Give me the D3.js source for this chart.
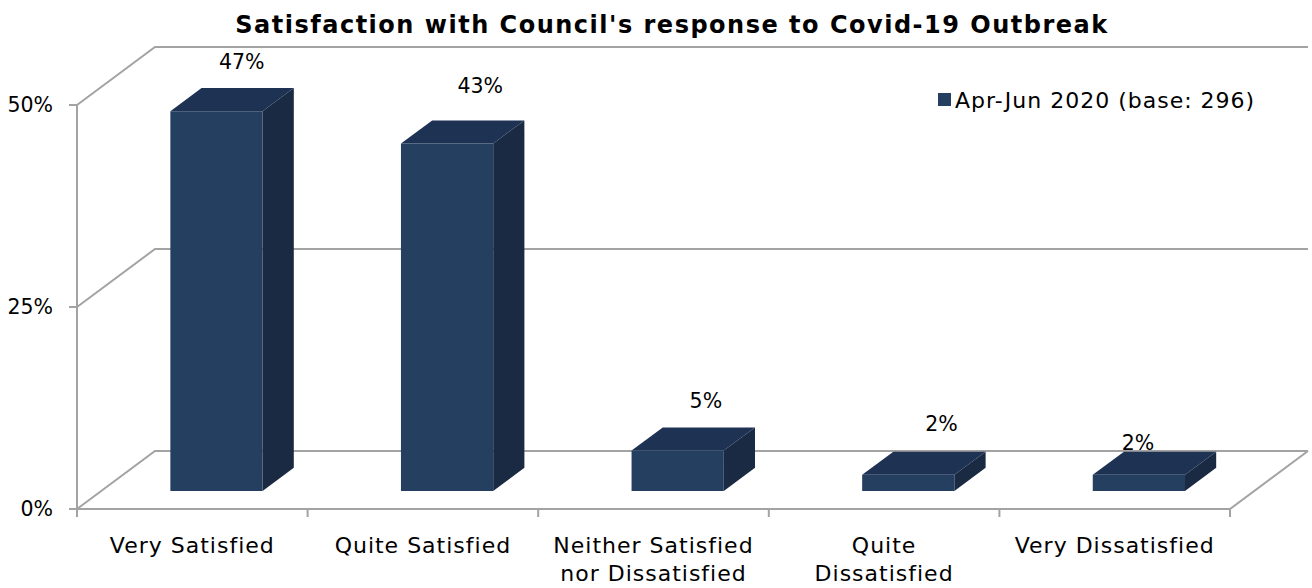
<!DOCTYPE html>
<html>
<head>
<meta charset="utf-8">
<script src="https://cdn.jsdelivr.net/npm/d3@7"></script>
<style>
html,body{margin:0;padding:0;background:#fff;}
svg{display:block;}
text{font-family:"DejaVu Sans",sans-serif;fill:#000;}
</style>
</head>
<body>
<svg id="chart" width="1312" height="588"></svg>
<script>
// ---- data ----
const categories = [["Very Satisfied"], ["Quite Satisfied"], ["Neither Satisfied", "nor Dissatisfied"], ["Quite", "Dissatisfied"], ["Very Dissatisfied"]];
const values = [47, 43, 5, 2, 2];
const valueLabels = ["47%", "43%", "5%", "2%", "2%"];
const yTicks = [0, 25, 50];
const seriesName = "Apr-Jun 2020 (base: 296)";
const title = "Satisfaction with Council's response to Covid-19 Outbreak";

// ---- layout (not data) ----
const labelOffsets = [[-6, -26], [2, -35], [-3, -27], [2, -28], [-32, -9]];
const origin = {x: 77, y: 509};
const depth = {dx: 78, dy: -58};
const barZ = [0.31, 0.71];

const svg = d3.select("#chart");
const x = d3.scaleBand().domain(d3.range(categories.length)).range([origin.x, 1230]).paddingInner(0).paddingOuter(0);
const y = d3.scaleLinear().domain([0, 50]).range([0, 404]);

function P(px, v, z) {
  return [px + depth.dx * z, origin.y - y(v) + depth.dy * z];
}

const gridColor = "#a3a3a3";
const g = svg.append("g");
const fs = "22px", ls = "1px", pfs = "20.5px";

// walls gridlines
yTicks.forEach(t => {
  const a = P(origin.x, t, 0), b = P(origin.x, t, 1), c = P(1230, t, 1);
  g.append("polyline")
    .attr("points", [a, b, c].map(p => p.join(",")).join(" "))
    .attr("fill", "none").attr("stroke", gridColor).attr("stroke-width", 2);
});
// floor front & right edge
{
  const a = P(origin.x, 0, 0), b = P(1230, 0, 0), c = P(1230, 0, 1);
  g.append("polyline").attr("points", [a, b, c].map(p => p.join(",")).join(" "))
    .attr("fill", "none").attr("stroke", gridColor).attr("stroke-width", 2);
}
// vertical axis
g.append("line").attr("x1", origin.x).attr("x2", origin.x)
  .attr("y1", P(0, 0, 0)[1]).attr("y2", P(0, 50, 0)[1])
  .attr("stroke", gridColor).attr("stroke-width", 2);
// y ticks
yTicks.forEach(t => {
  const yy = P(0, t, 0)[1];
  g.append("line").attr("x1", origin.x - 8).attr("x2", origin.x).attr("y1", yy).attr("y2", yy)
    .attr("stroke", gridColor).attr("stroke-width", 2);
  g.append("text").attr("x", 53).attr("y", yy).attr("dy", "0.35em")
    .attr("text-anchor", "end").style("font-size", pfs).text(t + "%");
});
// x ticks
const bounds = x.domain().map(i => x(i)).concat([1230]);
bounds.forEach(bx => {
  g.append("line").attr("x1", bx).attr("x2", bx).attr("y1", origin.y).attr("y2", origin.y + 8)
    .attr("stroke", gridColor).attr("stroke-width", 2);
});
// x labels
categories.forEach((lines, i) => {
  const t = g.append("text").attr("text-anchor", "middle").style("font-size", fs).style("letter-spacing", ls);
  lines.forEach((ln, k) => {
    t.append("tspan").attr("x", x(i) + x.bandwidth() / 2).attr("y", 553 + k * 28).text(ln);
  });
});

// bars
const barW = x.bandwidth() * 0.4;
const cFront = "#253f61", cTop = "#1e3254", cSide = "#1a2a43";
values.forEach((v, i) => {
  const cx = x(i) + x.bandwidth() / 2;
  const l = cx - barW / 2, r = cx + barW / 2;
  const [z0, z1] = barZ;
  const top = [P(l, v, z0), P(l, v, z1), P(r, v, z1), P(r, v, z0)];
  const side = [P(r, 0, z0), P(r, v, z0), P(r, v, z1), P(r, 0, z1)];
  const front = [P(l, 0, z0), P(l, v, z0), P(r, v, z0), P(r, 0, z0)];
  const pts = a => a.map(p => p.join(",")).join(" ");
  g.append("polygon").attr("points", pts(side)).attr("fill", cSide);
  g.append("polygon").attr("points", pts(top)).attr("fill", cTop);
  g.append("polygon").attr("points", pts(front)).attr("fill", cFront);
  const lp = P(cx, v, z1);
  g.append("text").attr("x", lp[0] + labelOffsets[i][0]).attr("y", lp[1] + labelOffsets[i][1])
    .attr("dy", "0.35em").attr("text-anchor", "middle").style("font-size", pfs).text(valueLabels[i]);
});

// legend
g.append("rect").attr("x", 938).attr("y", 93).attr("width", 13).attr("height", 13).attr("fill", cFront);
g.append("text").attr("x", 955).attr("y", 100).attr("dy", "0.35em").style("font-size", fs).style("letter-spacing", ls).text(seriesName);

// title
svg.append("text").attr("x", 672).attr("y", 25).attr("dy", "0.35em").attr("text-anchor", "middle")
  .style("font-size", "24px").style("font-weight", "bold").style("letter-spacing", "1.5px").text(title);
</script>
</body>
</html>
